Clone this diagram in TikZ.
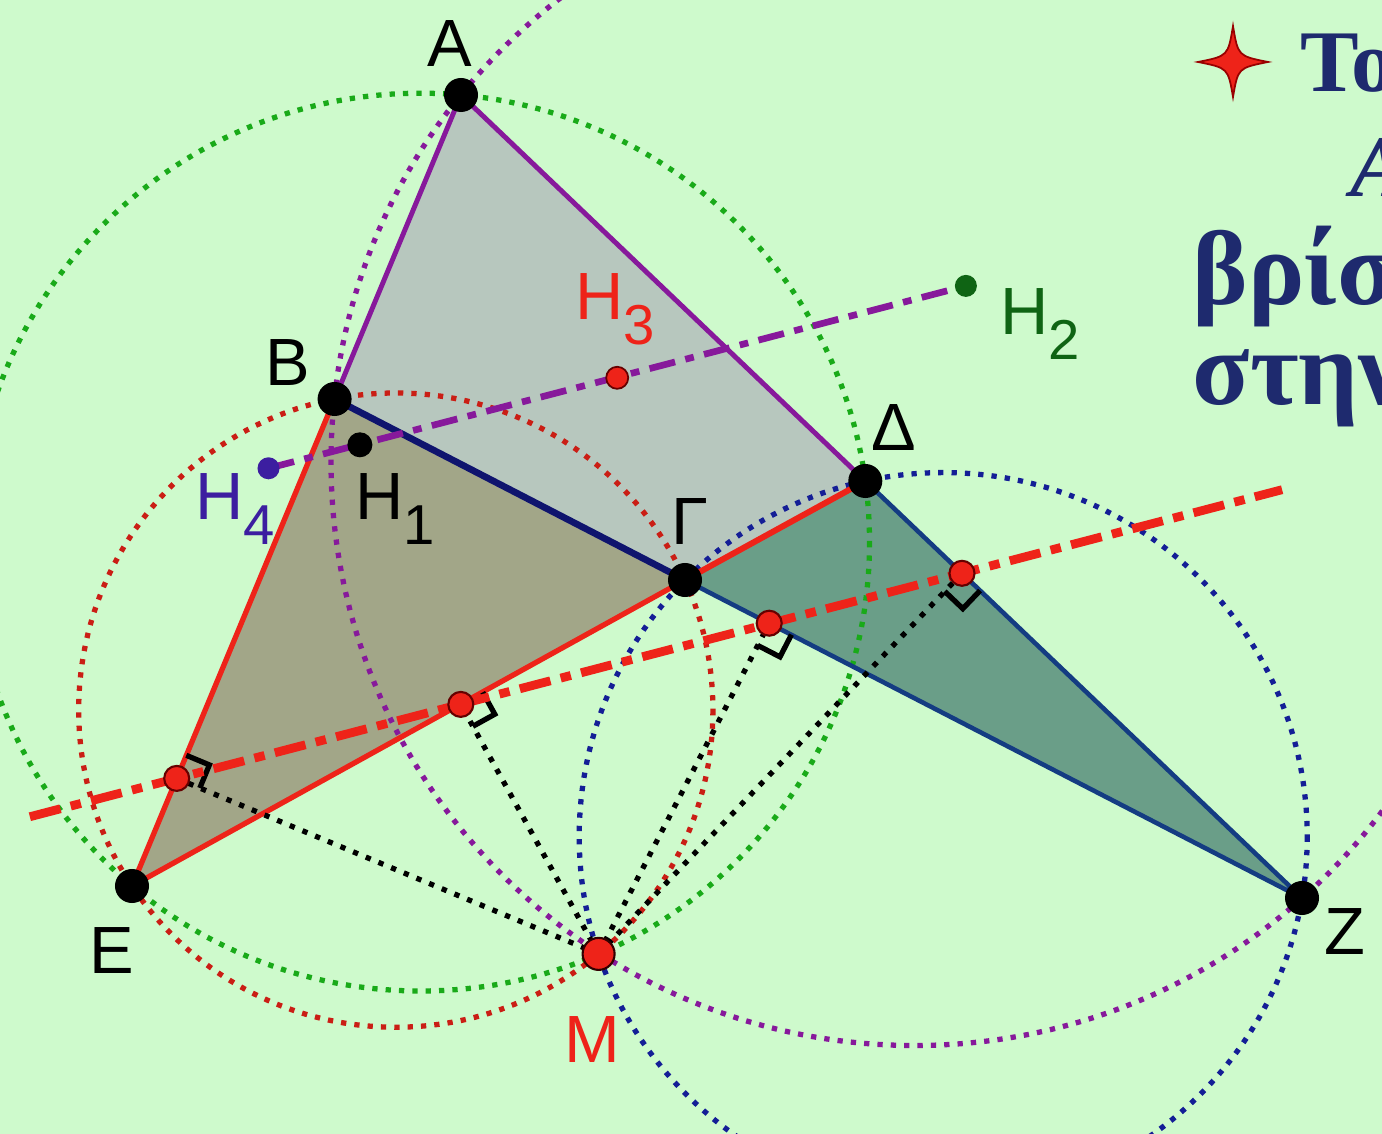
\documentclass[tikz,border=0pt]{standalone}
\usepackage{fontspec}
\setmainfont{Liberation Sans}
\newfontfamily\grserif{Liberation Serif}
\usetikzlibrary{calc}
\definecolor{bg}{RGB}{206,250,204}
\definecolor{fillgray}{RGB}{183,199,190}
\definecolor{fillolive}{RGB}{162,166,136}
\definecolor{fillteal}{RGB}{106,158,136}
\definecolor{cpurple}{RGB}{135,25,155}
\definecolor{cgreen}{RGB}{25,170,25}
\definecolor{cred}{RGB}{238,35,25}
\definecolor{cblue}{RGB}{20,30,150}
\definecolor{cnavy}{RGB}{15,20,110}
\definecolor{csteel}{RGB}{20,60,130}
\definecolor{dgreen}{RGB}{15,100,20}
\definecolor{cindigo}{RGB}{60,30,160}
\definecolor{txtblue}{RGB}{30,42,110}
\begin{document}
\begin{tikzpicture}[x=0.01cm,y=-0.01cm,
  lbl/.style={font=\fontsize{19}{19}\selectfont, inner sep=0pt},
  hlbl/.style={font=\fontsize{19}{19}\selectfont, inner sep=0pt, anchor=base west},
  circdot/.style={line width=1.5pt, dash pattern=on 1.5pt off 2.3pt},
  perpdot/.style={black, line width=1.5pt, dash pattern=on 1.5pt off 2.4pt},
  simson/.style={cred, line width=2.5pt, dash pattern=on 9pt off 3pt on 3pt off 3pt},
  steiner/.style={cpurple, line width=1.9pt, dash pattern=on 7.5pt off 3pt on 2.5pt off 3pt},
  vdot/.style={circle, fill=black, inner sep=0pt, minimum size=0.34cm},
  rdot/.style={circle, fill=cred, draw=black!60!red, line width=0.6pt, inner sep=0pt, minimum size=0.25cm},
  hdot/.style={circle, inner sep=0pt, minimum size=0.22cm},
  ramark/.style={black, line width=1.5pt},
  bigtxt/.style={font=\grserif\bfseries\fontsize{25}{25}\selectfont, text=txtblue, inner sep=0pt, anchor=base west},
]
\useasboundingbox (0,0) rectangle (1382,1134);
\fill[bg] (0,0) rectangle (1382,1134);
\clip (0,0) rectangle (1382,1134);

% main points
\coordinate (A) at (461,95);
\coordinate (B) at (334.6,399);
\coordinate (E) at (132,886);
\coordinate (D) at (865.3,481);
\coordinate (G) at (685,580);
\coordinate (Z) at (1302,898);
\coordinate (M) at (598.6,953.9);
% circle centres
\coordinate (Ogr) at (420.6,542.1);
\coordinate (Opu) at (914.6,461.9);
\coordinate (Ore) at (395.8,710.1);
\coordinate (Obl) at (943.2,836.6);
% feet (Simson line)
\coordinate (P1) at (176.7,778.4);
\coordinate (P2) at (962.0,573.3);
\coordinate (P3) at (769.2,623.2);
\coordinate (P4) at (460.8,704.4);
% orthocentres (Steiner line)
\coordinate (H1) at (359.9,444.8);
\coordinate (H2) at (965.9,285.9);
\coordinate (H3) at (617.2,377.8);
\coordinate (H4) at (268.5,468.3);
\coordinate (S1) at ($(P1)!-0.187!(P2)$);
\coordinate (S2) at ($(P1)!1.4076!(P2)$);

% fills
\fill[fillgray] (A) -- (B) -- (G) -- (D) -- cycle;
\fill[fillolive] (B) -- (E) -- (G) -- cycle;
\fill[fillteal] (G) -- (D) -- (Z) -- cycle;

% circles
\draw[circdot, cgreen] (Ogr) circle[radius=448.9];
\draw[circdot, cpurple] (Opu) circle[radius=583.6];
\draw[circdot, cred!85!black] (Ore) circle[radius=317.1];
\draw[circdot, cblue] (Obl) circle[radius=364.0];

% triangle sides
\draw[cpurple, line width=1.4pt] (B) -- (A) -- (D);
\draw[cnavy, line width=1.9pt] (B) -- (G);
\draw[cred, line width=1.7pt] (G) -- (D);
\draw[cred, line width=1.5pt] (B) -- (E) -- (G);
\draw[csteel, line width=1.3pt] (G) -- (Z) -- (D);

% perpendiculars from M
\draw[perpdot] (M) -- (P1);
\draw[perpdot] (M) -- (P4);
\draw[perpdot] (M) -- (P3);
\draw[perpdot] (M) -- (P2);

% right angle marks
\foreach \p/\q in {P1/A,P4/D,P3/Z,P2/Z}{
  \coordinate (ra) at ($(\p)!0.25cm!(\q)$);
  \coordinate (rb) at ($(\p)!0.25cm!(M)$);
  \draw[ramark] (ra) -- ($(ra)+(rb)-(\p)$) -- (rb);
}

% Simson and Steiner lines
\draw[simson] (S1) -- (S2);
\draw[steiner] (H4) -- (H2);

% dots
\node[vdot] (dA) at (A) {};
\node[vdot] (dB) at (B) {};
\node[vdot] (dE) at (E) {};
\node[vdot] (dD) at (D) {};
\node[vdot] (dG) at (G) {};
\node[vdot] (dZ) at (Z) {};
\node[rdot, minimum size=0.32cm, draw=black!80!red] (dM) at (M) {};
\node[rdot] (dP1) at (P1) {};
\node[rdot] (dP2) at (P2) {};
\node[rdot] (dP3) at (P3) {};
\node[rdot] (dP4) at (P4) {};
\node[hdot, fill=black, minimum size=0.25cm] (dH1) at (H1) {};
\node[hdot, fill=dgreen] (dH2) at (H2) {};
\node[hdot, fill=cred, draw=black!60!red, line width=0.5pt] (dH3) at (H3) {};
\node[hdot, fill=cindigo] (dH4) at (H4) {};

% labels
\node[lbl] (lA) at (450,44) {A};
\node[lbl] (lB) at (288,363) {B};
\node[lbl] (lG) at (690,522) {Γ};
\node[lbl] (lD) at (894,428) {Δ};
\node[lbl] (lE) at (112,951) {E};
\node[lbl] (lZ) at (1345,932) {Z};
\node[lbl, text=cred] (lM) at (592,1040) {M};
\node[hlbl, text=cred] (lH3) at (575,320) {H\raisebox{-7pt}{\fontsize{16}{16}\selectfont 3}};
\node[hlbl, text=dgreen] (lH2) at (1000,335) {H\raisebox{-7pt}{\fontsize{16}{16}\selectfont 2}};
\node[hlbl, text=cindigo] (lH4) at (195,520) {H\raisebox{-7pt}{\fontsize{16}{16}\selectfont 4}};
\node[hlbl, text=black] (lH1) at (355,520) {H\raisebox{-7pt}{\fontsize{16}{16}\selectfont 1}};

% right-hand text panel (cut off by the frame)
\fill[bg] (1180,0) rectangle (1382,440);
\fill[cred, draw=red!60!black, line width=0.5pt] (1233,26) .. controls (1238,56) .. (1268,62)
  .. controls (1238,68) .. (1233,97) .. controls (1228,68) .. (1198,62)
  .. controls (1228,56) .. (1233,26) -- cycle;
\node[bigtxt] (t1) at (1300,92) {Το};
\node[bigtxt, font=\grserif\bfseries\itshape\fontsize{25}{25}\selectfont] (t2) at (1350,197) {Α};
\node[bigtxt, font=\grserif\bfseries\fontsize{30}{30}\selectfont] (t3) at (1192,305) {βρίσκ};
\node[bigtxt, font=\grserif\bfseries\fontsize{30}{30}\selectfont] (t4) at (1192,405) {στην};
\end{tikzpicture}
\end{document}
